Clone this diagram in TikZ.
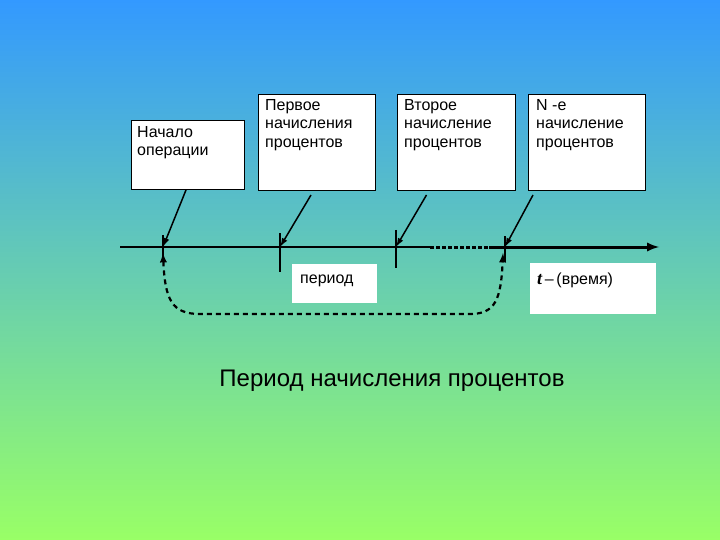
\documentclass[tikz,border=0pt]{standalone}
\usepackage{fontspec}
\setmainfont{Liberation Sans}
\newfontfamily\timesfam{Liberation Serif}
\usetikzlibrary{positioning, arrows.meta}

\definecolor{skytop}{HTML}{3399FF}
\definecolor{grassbot}{HTML}{99FF66}

\tikzset{
    eventbox/.style={draw, line width=1pt, fill=white, anchor=north west, inner sep=0pt},
    labelbox/.style={fill=white, anchor=north west, inner sep=0pt},
    boxtext/.style={anchor=north west, align=left, inner sep=0pt,
        font=\fontsize{16}{18.5}\selectfont,
        execute at begin node={\rule{0pt}{14pt}}},
    pointer/.style={line width=1.5pt, -{Latex[length=9pt, width=6pt]}},
    tick/.style={line width=1.2pt},
    loopline/.style={line width=2.2pt, dash pattern=on 5pt off 4pt, latex-latex}
}

\begin{document}
\begin{tikzpicture}[x=1pt, y=-1pt]
    \shade[top color=skytop, bottom color=grassbot] (0,0) rectangle (720,540);
    \useasboundingbox (0,0) rectangle (720,540);

    % boxes
    \node[eventbox, minimum width=113pt, minimum height=69pt] (start) at (131,120) {};
    \node[eventbox, minimum width=117pt, minimum height=96pt] (first) at (258,94) {};
    \node[eventbox, minimum width=118pt, minimum height=96pt] (second) at (397,94) {};
    \node[eventbox, minimum width=117pt, minimum height=96pt] (nth) at (528,94) {};
    \node[labelbox, minimum width=85pt, minimum height=39pt] (period) at (292,264) {};
    \node[labelbox, minimum width=126pt, minimum height=51pt] (time) at (530,263) {};

    % box texts
    \node[boxtext] (startTxt) at ([shift={(6,6)}]start.north west) {Начало\\операции};
    \node[boxtext] (firstTxt) at ([shift={(7,5)}]first.north west) {Первое\\начисления\\процентов};
    \node[boxtext] (secondTxt) at ([shift={(7,5)}]second.north west) {Второе\\начисление\\процентов};
    \node[boxtext] (nthTxt) at ([shift={(8,5)}]nth.north west) {N -е\\начисление\\процентов};
    \node[boxtext] (periodTxt) at ([shift={(8,5)}]period.north west) {период};
    \node[boxtext] (timeTxt) at ([shift={(7,7)}]time.north west) {{\timesfam\fontsize{18}{18}\selectfont\bfseries\itshape t}\,–\,(время)};

    % time axis
    \coordinate (axisL) at (120,247);
    \coordinate (solidEnd) at (430,247);
    \coordinate (dotEnd) at (489,247);
    \coordinate (axisR) at (659,247);
    \draw[line width=2pt] (axisL) -- (solidEnd);
    \draw[line width=3pt, dash pattern=on 4pt off 2pt] (solidEnd) -- (dotEnd);
    \draw[line width=3pt, -latex] (dotEnd) -- (axisR);

    % ticks
    \coordinate (t0) at (163,247);
    \coordinate (t1) at (280,247);
    \coordinate (t2) at (396,247);
    \coordinate (t3) at (505,247);
    \draw[tick] (163,235) -- (163,260);
    \draw[tick] (280,233) -- (280,272);
    \draw[tick] (396,230) -- (396,268);
    \draw[tick] (505,236) -- (505,262);

    % pointers
    \draw[pointer] (start.south) ++(-2,0) -- (t0);
    \draw[pointer] (first.south) ++(-6,4) -- (t1);
    \draw[pointer] (second.south) ++(-30,4) -- (t2);
    \draw[pointer] (nth.south) ++(-54,4) -- (t3);

    % period loop
    \coordinate (loopL) at (163,253);
    \coordinate (loopR) at (503,253);
    \draw[loopline] (loopL) .. controls (165,300) and (172,314) .. (200,314)
        -- (470,314) .. controls (495,314) and (501,300) .. (loopR);

    % title
    \node[font=\fontsize{24}{28}\selectfont] (title) at (392,381) {Период начисления процентов};
\end{tikzpicture}
\end{document}
